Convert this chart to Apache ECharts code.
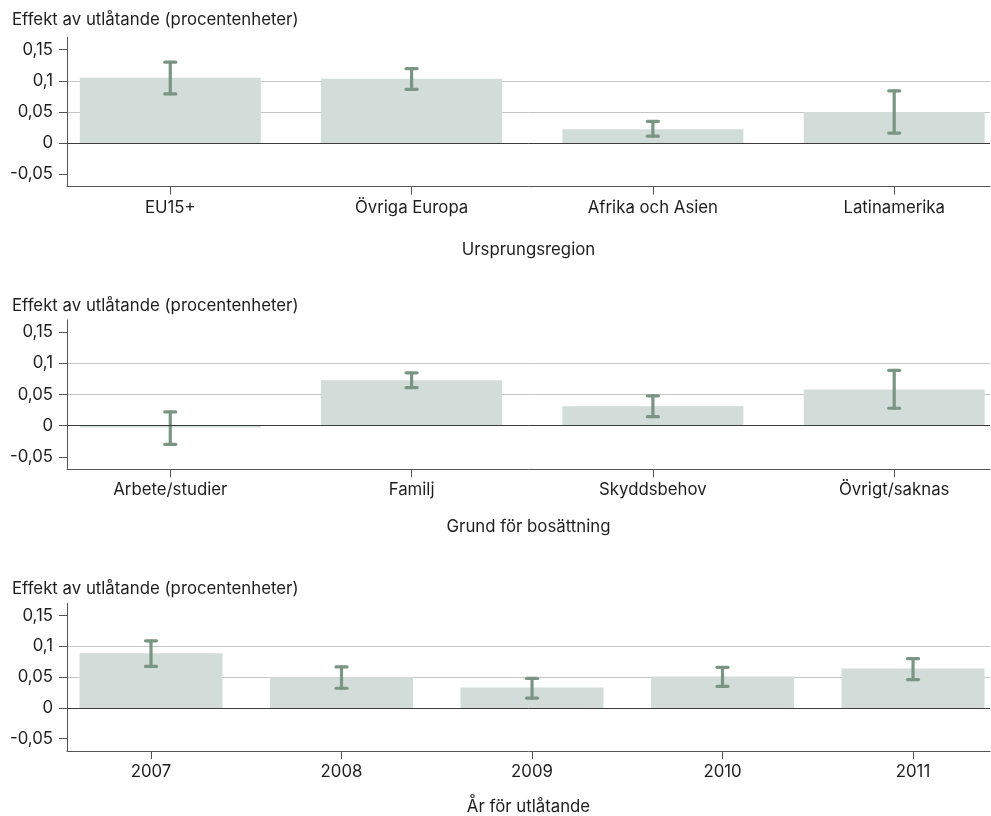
<!DOCTYPE html>
<html>
<head>
<meta charset="utf-8">
<script src="https://cdn.jsdelivr.net/npm/echarts@6/dist/echarts.min.js"></script>
<style>
html,body{margin:0;padding:0;background:#fff;}
#chart{width:991px;height:816px;}
</style>
</head>
<body>
<div id="chart"></div>
<script>
// ---- data ----
const yTitle = 'Effekt av utlåtande (procentenheter)';
const yTicks = [-0.05, 0, 0.05, 0.1, 0.15];

const cat1 = ['EU15+', 'Övriga Europa', 'Afrika och Asien', 'Latinamerika'];
const val1 = [0.105, 0.1035, 0.022, 0.050];
const lo1  = [0.079, 0.0863, 0.011, 0.016];
const hi1  = [0.130, 0.1196, 0.035, 0.084];

const cat2 = ['Arbete/studier', 'Familj', 'Skyddsbehov', 'Övrigt/saknas'];
const val2 = [-0.003, 0.0728, 0.031, 0.058];
const lo2  = [-0.030, 0.061, 0.0145, 0.028];
const hi2  = [0.022, 0.085, 0.048, 0.089];

const cat3 = ['2007', '2008', '2009', '2010', '2011'];
const val3 = [0.089, 0.050, 0.033, 0.051, 0.064];
const lo3  = [0.0675, 0.032, 0.016, 0.035, 0.046];
const hi3  = [0.109, 0.0666, 0.048, 0.066, 0.080];

const xNames = ['Ursprungsregion', 'Grund för bosättning', 'År för utlåtande'];

// ---- layout / style ----
const FONT = 'Inter';
const FS = 16.8;
const TXT = '#1e1e1e';
const BAR = '#d2ddd9';
const ERR = '#7b9584';
const panels = [
  {cats: cat1, vals: val1, lo: lo1, hi: hi1, top: 37.3, titleTop: 11.5, xmin: 0.572, xmax: 4.397, barW: 181, labelMargin: 12.5, nameGap: 55},
  {cats: cat2, vals: val2, lo: lo2, hi: hi2, top: 319.9, titleTop: 297, xmin: 0.572, xmax: 4.397, barW: 181, labelMargin: 12.5, nameGap: 49},
  {cats: cat3, vals: val3, lo: lo3, hi: hi3, top: 603.3, titleTop: 580, xmin: 0.559, xmax: 5.404, barW: 143, labelMargin: 12, nameGap: 47}
];
const GRID_H = 149.3;

const fmt = v => String(v).replace('.', ',');

const option = {
  animation: false,
  backgroundColor: '#ffffff',
  textStyle: {fontFamily: FONT},
  title: panels.map(p => ({
    text: yTitle, left: 12, top: p.titleTop, padding: 0,
    textStyle: {fontFamily: FONT, fontSize: FS, fontWeight: 'normal', color: TXT}
  })),
  grid: panels.map(p => ({left: 67, right: 1, top: p.top, height: GRID_H, containLabel: false})),
  xAxis: panels.map((p, i) => ({
    type: 'value', gridIndex: i, min: p.xmin, max: p.xmax,
    name: xNames[i], nameLocation: 'middle', nameGap: p.nameGap,
    nameTextStyle: {fontFamily: FONT, fontSize: FS, color: TXT},
    axisLine: {show: true, onZero: false, lineStyle: {color: '#555', width: 1}},
    axisTick: {show: true, length: 8, customValues: p.cats.map((c, k) => k + 1), lineStyle: {color: '#555'}},
    axisLabel: {show: true, margin: p.labelMargin, customValues: p.cats.map((c, k) => k + 1),
      formatter: v => p.cats[Math.round(v) - 1] || '', fontFamily: FONT, fontSize: FS, color: TXT},
    splitLine: {show: false}
  })),
  yAxis: panels.map((p, i) => ({
    type: 'value', gridIndex: i, min: -0.07, max: 0.17, splitNumber: 5,
    axisLine: {show: true, lineStyle: {color: '#555', width: 1}},
    axisTick: {show: true, length: 8, customValues: yTicks, lineStyle: {color: '#555'}},
    axisLabel: {show: true, margin: 14, customValues: yTicks, formatter: fmt,
      fontFamily: FONT, fontSize: FS, color: TXT},
    splitLine: {show: true, showMinLine: false, showMaxLine: false, lineStyle: {color: '#c6c6c6', width: 1}}
  })),
  series: []
};

panels.forEach((p, i) => {
  // zero reference line behind bars
  option.series.push({
    type: 'line', xAxisIndex: i, yAxisIndex: i, data: [], z: 1, silent: true,
    markLine: {silent: true, symbol: 'none', label: {show: false},
      lineStyle: {color: '#3c3c3c', width: 1, type: 'solid'},
      data: [{yAxis: 0}]}
  });
  option.series.push({
    type: 'bar', xAxisIndex: i, yAxisIndex: i, z: 2,
    barWidth: p.barW,
    itemStyle: {color: BAR},
    data: p.vals.map((v, k) => [k + 1, v])
  });
  option.series.push({
    type: 'custom', xAxisIndex: i, yAxisIndex: i, z: 3,
    data: p.lo.map((l, k) => [k + 1, l, p.hi[k]]),
    encode: {x: 0, y: [1, 2]},
    renderItem: (params, api) => {
      const x = api.value(0);
      const a = api.coord([x, api.value(1)]);
      const b = api.coord([x, api.value(2)]);
      const hw = 5.5;
      const st = {stroke: ERR, lineWidth: 3.2, lineCap: 'round'};
      return {type: 'group', children: [
        {type: 'line', shape: {x1: a[0], y1: a[1], x2: b[0], y2: b[1]}, style: st},
        {type: 'line', shape: {x1: a[0] - hw, y1: a[1], x2: a[0] + hw, y2: a[1]}, style: st},
        {type: 'line', shape: {x1: b[0] - hw, y1: b[1], x2: b[0] + hw, y2: b[1]}, style: st}
      ]};
    }
  });
});

const chart = echarts.init(document.getElementById('chart'), null, {renderer: 'canvas'});
chart.setOption(option);
</script>
</body>
</html>
